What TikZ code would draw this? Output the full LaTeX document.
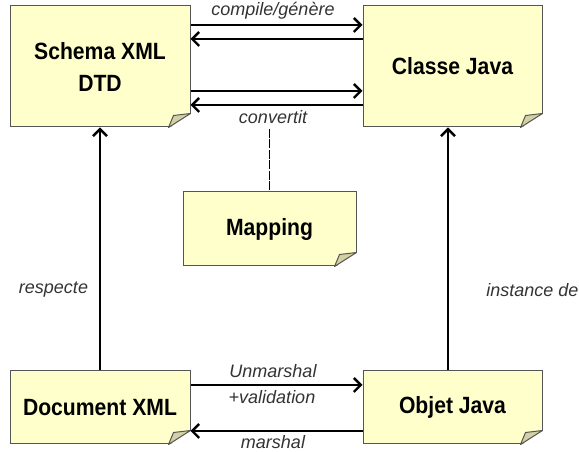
\documentclass[tikz,border=0pt]{standalone}
\usepackage{fontspec}
\setmainfont{Liberation Sans}
\newfontfamily\notefont[FakeStretch=0.9]{Liberation Sans}
\usetikzlibrary{arrows.meta}

\definecolor{notefill}{HTML}{FFFFCC}
\definecolor{notefold}{HTML}{D4D0A6}
\definecolor{noteline}{HTML}{555555}
\definecolor{labelgray}{HTML}{333333}

\tikzset{
	note/.style = {fill=notefill, draw=noteline, line width=1pt, align=center, inner sep=0pt,
		font=\notefont\bfseries\fontsize{23.5}{32}\selectfont},
	link/.style = {line width=2.4pt, -{Straight Barb[length=7pt,width=14pt]}},
	tag/.style = {font=\itshape\fontsize{18}{22}\selectfont, text=labelgray, inner sep=1pt},
}

% dog-eared corner of a note
\newcommand{\fold}[1]{%
	\fill [white] ([xshift=-22pt,yshift=-1pt]#1.south east) -- ([xshift=1pt,yshift=-1pt]#1.south east) -- ([xshift=1pt,yshift=14pt]#1.south east) -- cycle;
	\draw [noteline, line width=1pt, fill=notefold, line join=round] ([xshift=-22pt]#1.south east) -- ([xshift=-17pt,yshift=12pt]#1.south east) -- ([yshift=14pt]#1.south east) -- cycle;
}

\begin{document}
\begin{tikzpicture}[x=1pt, y=1pt]
	\useasboundingbox (0,0) rectangle (579,452);

	\node [note, minimum width=180pt, minimum height=121pt] (schema) at (100, 385.5) {Schema XML\\DTD};
	\node [note, minimum width=179pt, minimum height=121pt] (classe) at (452.5, 385.5) {Classe Java};
	\node [note, minimum width=173pt, minimum height=74pt] (mapping) at (269.5, 223) {Mapping};
	\node [note, minimum width=180pt, minimum height=73pt] (doc) at (100, 44.5) {Document XML};
	\node [note, minimum width=179pt, minimum height=73pt] (objet) at (452.5, 44.5) {Objet Java};
	\fold{schema}
	\fold{classe}
	\fold{mapping}
	\fold{doc}
	\fold{objet}

	\draw [link] ([yshift=41.5pt]schema.east) -- ([yshift=41.5pt]classe.west);
	\draw [link] ([yshift=27.5pt]classe.west) -- ([yshift=27.5pt]schema.east);
	\draw [link] ([yshift=-24.5pt]schema.east) -- ([yshift=-24.5pt]classe.west);
	\draw [link] ([yshift=-38.5pt]classe.west) -- ([yshift=-38.5pt]schema.east);

	\draw [link] (doc.north) -- (schema.south);
	\draw [link] ([xshift=-4.5pt]objet.north) -- ([xshift=-4.5pt]classe.south);

	\draw [link] ([yshift=22.5pt]doc.east) -- ([yshift=22.5pt]objet.west);
	\draw [link] ([yshift=-23.5pt]objet.west) -- ([yshift=-23.5pt]doc.east);

	\node [tag] (compile) at (273, 441) {compile/génère};
	\node [tag] (convertit) at (273, 335) {convertit};
	\node [tag] (respecte) at (53.5, 162) {respecte};
	\node [tag] (instance) at (532.5, 162) {instance de};
	\node [tag] (unmarshal) at (273, 80.5) {Unmarshal};
	\node [tag] (validation) at (272, 54.5) {+validation};
	\node [tag] (marshal) at (273, 9.5) {marshal};

	\draw [line width=0.8pt, dash pattern=on 9pt off 1.5pt, shorten <=4pt] (convertit.south -| mapping.north) -- (mapping.north);
\end{tikzpicture}
\end{document}
